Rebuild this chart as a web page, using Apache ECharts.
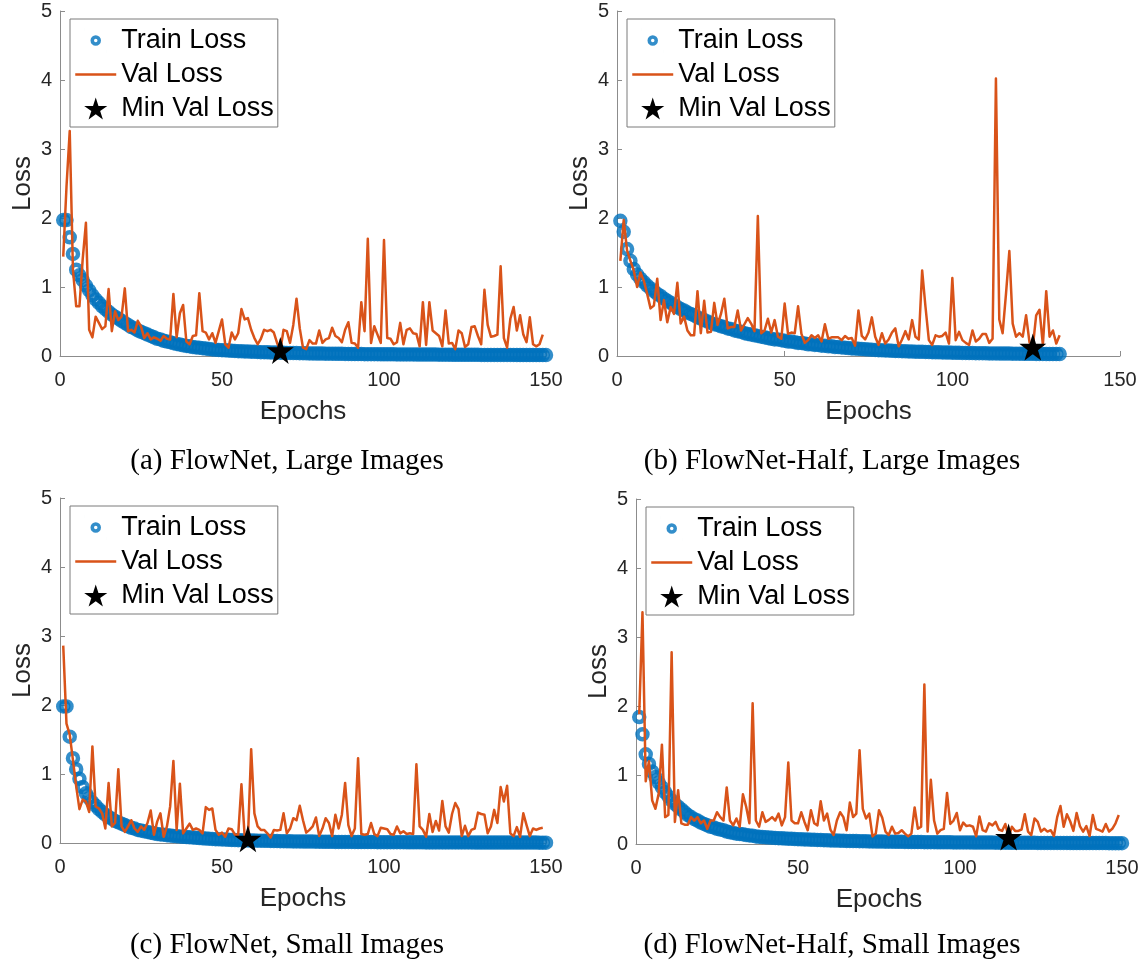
<!DOCTYPE html>
<html>
<head>
<meta charset="utf-8">
<title>Training and validation loss</title>
<script src="https://cdn.jsdelivr.net/npm/echarts@6/dist/echarts.min.js"></script>
<style>
  html, body { margin: 0; padding: 0; background: #fff; }
  #chart { width: 1141px; height: 968px; }
</style>
</head>
<body>
<div id="chart"></div>
<script>
// ---- data: loss per epoch (epoch = index + 1) ----
const trainLossA = [
  1.97,1.97,1.72,1.48,1.25,1.17,1.10,1.02,0.95,0.88,
  0.82,0.77,0.72,0.68,0.64,0.60,0.57,0.54,0.51,0.48,
  0.45,0.42,0.40,0.37,0.35,0.33,0.31,0.29,0.27,0.25,
  0.24,0.22,0.21,0.20,0.185,0.175,0.165,0.155,0.145,0.14,
  0.13,0.125,0.12,0.113,0.107,0.10,0.096,0.092,0.088,0.085,
  0.082,0.079,0.076,0.073,0.070,0.068,0.066,0.064,0.062,0.060,
  0.058,0.056,0.055,0.053,0.052,0.050,0.049,0.048,0.047,0.045,
  0.044,0.043,0.042,0.041,0.040,0.039,0.038,0.037,0.036,0.035,
  0.035,0.034,0.033,0.033,0.032,0.031,0.031,0.030,0.030,0.029,
  0.029,0.028,0.028,0.027,0.027,0.026,0.026,0.026,0.025,0.025,
  0.024,0.024,0.024,0.023,0.023,0.023,0.022,0.022,0.022,0.021,
  0.021,0.021,0.020,0.020,0.020,0.020,0.019,0.019,0.019,0.019,
  0.018,0.018,0.018,0.018,0.017,0.017,0.017,0.017,0.017,0.016,
  0.016,0.016,0.016,0.016,0.015,0.015,0.015,0.015,0.015,0.015,
  0.014,0.014,0.014,0.014,0.014,0.014,0.013,0.013,0.013,0.013
];
const valLossA = [
  1.44,2.45,3.26,1.25,0.72,0.72,1.40,1.93,0.38,0.27,
  0.57,0.48,0.39,0.43,0.97,0.36,0.65,0.52,0.57,0.98,
  0.36,0.38,0.34,0.51,0.43,0.26,0.33,0.24,0.27,0.25,
  0.22,0.29,0.25,0.24,0.90,0.27,0.62,0.74,0.21,0.17,
  0.29,0.30,0.91,0.36,0.34,0.24,0.33,0.19,0.36,0.53,
  0.17,0.12,0.34,0.24,0.33,0.68,0.53,0.55,0.38,0.26,
  0.17,0.25,0.38,0.36,0.38,0.34,0.19,0.08,0.38,0.36,
  0.19,0.45,0.83,0.40,0.12,0.10,0.23,0.18,0.18,0.37,
  0.19,0.24,0.26,0.41,0.29,0.26,0.20,0.38,0.49,0.19,
  0.18,0.12,0.78,0.36,1.70,0.19,0.43,0.31,0.19,1.68,
  0.26,0.25,0.17,0.20,0.48,0.17,0.38,0.40,0.33,0.32,
  0.14,0.78,0.16,0.78,0.37,0.33,0.29,0.14,0.66,0.18,
  0.19,0.10,0.37,0.33,0.13,0.17,0.42,0.43,0.29,0.17,
  0.96,0.45,0.28,0.29,0.31,1.30,0.26,0.12,0.54,0.71,
  0.37,0.59,0.31,0.20,0.56,0.17,0.14,0.17,0.31
];

const trainLossB = [
  1.96,1.80,1.55,1.38,1.26,1.18,1.12,1.07,1.02,0.98,
  0.94,0.90,0.87,0.83,0.80,0.77,0.74,0.71,0.68,0.66,
  0.63,0.61,0.59,0.56,0.54,0.52,0.50,0.48,0.46,0.45,
  0.43,0.42,0.40,0.39,0.37,0.36,0.35,0.33,0.32,0.31,
  0.30,0.29,0.28,0.27,0.26,0.25,0.24,0.24,0.23,0.22,
  0.21,0.21,0.20,0.19,0.19,0.18,0.17,0.17,0.16,0.16,
  0.15,0.15,0.14,0.14,0.13,0.13,0.125,0.12,0.115,0.11,
  0.107,0.104,0.10,0.097,0.094,0.091,0.088,0.085,0.083,0.080,
  0.078,0.076,0.074,0.072,0.070,0.068,0.066,0.064,0.063,0.061,
  0.060,0.058,0.057,0.055,0.054,0.053,0.052,0.050,0.049,0.048,
  0.047,0.046,0.045,0.044,0.043,0.042,0.041,0.041,0.040,0.039,
  0.038,0.038,0.037,0.036,0.036,0.035,0.035,0.034,0.033,0.033,
  0.032,0.032,0.031,0.031,0.030,0.030,0.030,0.029,0.029,0.028,
  0.028,0.028
];
const valLossB = [
  1.38,1.97,1.53,1.38,1.24,1.00,1.21,1.09,0.90,0.69,
  0.73,1.12,0.52,0.81,0.49,0.71,0.61,1.06,0.47,0.57,
  0.37,0.30,0.30,0.94,0.33,0.80,0.34,0.35,0.77,0.45,
  0.61,0.83,0.40,0.42,0.42,0.66,0.37,0.46,0.55,0.47,
  0.36,2.03,0.33,0.37,0.54,0.34,0.52,0.28,0.25,0.76,
  0.32,0.34,0.33,0.72,0.32,0.19,0.23,0.30,0.26,0.30,
  0.21,0.46,0.25,0.27,0.27,0.27,0.23,0.29,0.25,0.26,
  0.15,0.66,0.29,0.24,0.34,0.56,0.28,0.16,0.33,0.18,
  0.24,0.34,0.40,0.14,0.24,0.36,0.24,0.52,0.28,0.24,
  1.24,0.71,0.23,0.16,0.30,0.28,0.29,0.34,0.18,1.13,
  0.23,0.35,0.23,0.19,0.16,0.37,0.21,0.25,0.32,0.32,
  0.19,0.25,4.02,0.53,0.33,0.90,1.52,0.47,0.28,0.33,
  0.28,0.59,0.20,0.13,0.59,0.67,0.16,0.94,0.28,0.37,
  0.18,0.30
];

const trainLossC = [
  1.98,1.98,1.54,1.23,1.07,0.93,0.81,0.72,0.65,0.59,
  0.54,0.49,0.45,0.41,0.38,0.35,0.32,0.30,0.28,0.26,
  0.24,0.22,0.21,0.19,0.18,0.17,0.16,0.15,0.14,0.13,
  0.125,0.12,0.114,0.108,0.103,0.098,0.093,0.089,0.086,0.083,
  0.080,0.076,0.072,0.068,0.065,0.062,0.059,0.056,0.053,0.051,
  0.049,0.047,0.045,0.043,0.041,0.040,0.038,0.037,0.036,0.035,
  0.034,0.033,0.032,0.031,0.030,0.029,0.028,0.027,0.026,0.025,
  0.024,0.023,0.023,0.022,0.021,0.021,0.020,0.020,0.019,0.019,
  0.018,0.018,0.017,0.017,0.016,0.016,0.016,0.015,0.015,0.015,
  0.014,0.014,0.014,0.013,0.013,0.013,0.013,0.012,0.012,0.012,
  0.012,0.011,0.011,0.011,0.011,0.011,0.010,0.010,0.010,0.010,
  0.010,0.010,0.009,0.009,0.009,0.009,0.009,0.009,0.009,0.008,
  0.008,0.008,0.008,0.008,0.008,0.008,0.008,0.007,0.007,0.007,
  0.007,0.007,0.007,0.007,0.007,0.007,0.006,0.006,0.006,0.006,
  0.006,0.006,0.006,0.006,0.006,0.006,0.006,0.005,0.005,0.005
];
const valLossC = [
  2.86,1.73,1.57,1.20,0.82,0.49,0.63,0.60,0.45,1.40,
  0.53,0.50,0.43,0.21,0.87,0.24,0.29,1.07,0.24,0.16,
  0.24,0.33,0.21,0.16,0.24,0.19,0.29,0.47,0.12,0.31,
  0.43,0.09,0.24,0.53,1.19,0.19,0.86,0.14,0.21,0.28,
  0.19,0.21,0.19,0.14,0.52,0.48,0.50,0.19,0.12,0.15,
  0.09,0.21,0.20,0.12,0.12,0.85,0.09,0.06,1.36,0.43,
  0.24,0.19,0.19,0.14,0.08,0.19,0.18,0.19,0.43,0.14,
  0.21,0.36,0.33,0.54,0.33,0.15,0.19,0.24,0.37,0.10,
  0.21,0.36,0.29,0.10,0.41,0.21,0.41,0.87,0.26,0.10,
  0.21,1.23,0.13,0.12,0.13,0.29,0.13,0.10,0.22,0.21,
  0.20,0.13,0.12,0.24,0.14,0.17,0.13,0.14,0.13,1.14,
  0.24,0.19,0.09,0.42,0.16,0.32,0.18,0.61,0.24,0.15,
  0.42,0.58,0.49,0.10,0.25,0.10,0.19,0.21,0.44,0.42,
  0.41,0.14,0.24,0.48,0.29,0.81,0.60,0.83,0.14,0.10,
  0.23,0.09,0.43,0.26,0.10,0.21,0.19,0.21,0.22
];

const trainLossD = [
  1.84,1.59,1.30,1.16,1.05,0.97,0.89,0.82,0.75,0.69,
  0.63,0.58,0.54,0.50,0.46,0.42,0.39,0.36,0.34,0.31,
  0.29,0.27,0.25,0.24,0.22,0.21,0.20,0.18,0.17,0.16,
  0.15,0.145,0.14,0.13,0.125,0.12,0.11,0.105,0.10,0.097,
  0.094,0.091,0.088,0.085,0.082,0.079,0.077,0.075,0.072,0.070,
  0.068,0.066,0.064,0.062,0.060,0.058,0.057,0.055,0.053,0.052,
  0.050,0.049,0.048,0.046,0.045,0.044,0.043,0.042,0.041,0.040,
  0.039,0.038,0.037,0.036,0.036,0.035,0.034,0.033,0.033,0.032,
  0.031,0.031,0.030,0.030,0.029,0.029,0.028,0.028,0.027,0.027,
  0.026,0.026,0.025,0.025,0.025,0.024,0.024,0.023,0.023,0.023,
  0.022,0.022,0.022,0.021,0.021,0.021,0.020,0.020,0.020,0.020,
  0.019,0.019,0.019,0.019,0.018,0.018,0.018,0.018,0.017,0.017,
  0.017,0.017,0.017,0.016,0.016,0.016,0.016,0.016,0.015,0.015,
  0.015,0.015,0.015,0.014,0.014,0.014,0.014,0.014,0.014,0.013,
  0.013,0.013,0.013,0.013,0.013,0.012,0.012,0.012,0.012,0.012
];
const valLossD = [
  1.88,3.36,0.91,1.20,0.63,0.51,0.73,1.44,0.39,0.42,
  2.78,0.32,0.78,0.30,0.28,0.28,0.39,0.34,0.39,0.30,
  0.34,0.22,0.34,0.34,0.46,0.39,0.34,0.82,0.34,0.27,
  0.37,0.25,0.72,0.54,0.30,2.04,0.34,0.25,0.46,0.32,
  0.35,0.39,0.34,0.44,0.27,0.39,1.18,0.34,0.30,0.30,
  0.46,0.32,0.20,0.49,0.30,0.27,0.62,0.34,0.44,0.21,
  0.13,0.34,0.46,0.39,0.20,0.60,0.39,0.44,1.36,0.51,
  0.37,0.44,0.11,0.15,0.49,0.38,0.18,0.13,0.25,0.15,
  0.16,0.20,0.15,0.11,0.15,0.53,0.22,0.25,2.31,0.18,
  0.93,0.34,0.15,0.20,0.22,0.74,0.29,0.34,0.45,0.20,
  0.31,0.26,0.27,0.25,0.11,0.40,0.20,0.18,0.30,0.27,
  0.32,0.21,0.19,0.29,0.10,0.25,0.19,0.19,0.21,0.43,
  0.18,0.13,0.37,0.32,0.18,0.22,0.18,0.20,0.115,0.39,
  0.55,0.25,0.43,0.33,0.19,0.45,0.26,0.18,0.26,0.115,
  0.42,0.22,0.20,0.18,0.29,0.18,0.22,0.30,0.42
];

const panelCaptions = [
  '(a) FlowNet, Large Images',
  '(b) FlowNet-Half, Large Images',
  '(c) FlowNet, Small Images',
  '(d) FlowNet-Half, Small Images'
];
const seriesNames = ['Train Loss', 'Val Loss', 'Min Val Loss'];
const epochTicks = [0, 50, 100, 150];
const lossTicks = [0, 1, 2, 3, 4, 5];

// ---- styling ----
const SANS = "'Liberation Sans', Arial, Helvetica, sans-serif";
const SERIF = "'Liberation Serif', 'Times New Roman', serif";
const BLUE = '#0072BD';
const ORANGE = '#D95319';
const AXIS_GRAY = '#8c8c8c';
const TEXT_DARK = '#262626';
const STAR = 'path://M50,0L61.2,34.5L97.6,34.5L68.2,55.9L79.4,90.5L50,69.1L20.6,90.5L31.8,55.9L2.4,34.5L38.8,34.5Z';
// legend icons drawn inside a fixed 41x22 (or 22x22) box so their sizes differ
const RING_ICON = 'path://M0,0L0.01,0M22,22L22.01,22M14.5,11A3.5,3.5,0,1,1,7.5,11A3.5,3.5,0,1,1,14.5,11Z';
const LINE_ICON = 'path://M0,0L0,0.01M0,11L41,11M0,22L0,22.01';

// plot boxes in pixels
const panels = [
  { left: 60,  top: 11,  width: 486, height: 345, train: trainLossA, val: valLossA, capX: 287, capY: 461 },
  { left: 617, top: 11,  width: 503, height: 345, train: trainLossB, val: valLossB, capX: 832, capY: 461 },
  { left: 60,  top: 498, width: 486, height: 345, train: trainLossC, val: valLossC, capX: 287, capY: 945 },
  { left: 636, top: 499, width: 486, height: 345, train: trainLossD, val: valLossD, capX: 832, capY: 945 }
];

const grid = [], xAxis = [], yAxis = [], series = [], legend = [], graphic = [];

panels.forEach((p, i) => {
  grid.push({ left: p.left, top: p.top, width: p.width, height: p.height,
              containLabel: false, outerBoundsMode: 'none' });

  xAxis.push({
    gridIndex: i, type: 'value',
    min: epochTicks[0], max: epochTicks[epochTicks.length - 1],
    interval: epochTicks[1] - epochTicks[0],
    name: 'Epochs', nameLocation: 'middle', nameGap: 43,
    nameTextStyle: { fontSize: 26, color: TEXT_DARK, fontFamily: SANS },
    axisLine: { show: true, onZero: false, lineStyle: { color: AXIS_GRAY, width: 1 } },
    axisTick: { show: true, inside: true, length: 5, lineStyle: { color: AXIS_GRAY } },
    axisLabel: { fontSize: 20, color: TEXT_DARK, fontFamily: SANS, margin: 14 },
    splitLine: { show: false }
  });

  yAxis.push({
    gridIndex: i, type: 'value',
    min: lossTicks[0], max: lossTicks[lossTicks.length - 1],
    interval: lossTicks[1] - lossTicks[0],
    name: 'Loss', nameLocation: 'middle', nameGap: 24,
    nameTextStyle: { fontSize: 26, color: TEXT_DARK, fontFamily: SANS },
    axisLine: { show: true, onZero: false, lineStyle: { color: AXIS_GRAY, width: 1 } },
    axisTick: { show: true, inside: true, length: 5, lineStyle: { color: AXIS_GRAY } },
    axisLabel: { fontSize: 20, color: TEXT_DARK, fontFamily: SANS, margin: 8 },
    splitLine: { show: false }
  });

  const trainPts = p.train.map((v, k) => [k + 1, v]);
  const valPts = p.val.map((v, k) => [k + 1, v]);
  const minVal = Math.min(...p.val);
  const minIdx = p.val.indexOf(minVal);

  series.push({
    name: seriesNames[0], type: 'scatter', xAxisIndex: i, yAxisIndex: i,
    data: trainPts, symbol: 'circle', symbolSize: 10, clip: false, z: 2,
    itemStyle: { color: 'rgba(255,255,255,0)', borderColor: BLUE, borderWidth: 4.5 },
    emphasis: { disabled: true }, silent: true
  });
  series.push({
    name: seriesNames[1], type: 'line', xAxisIndex: i, yAxisIndex: i,
    data: valPts, symbol: 'none', showSymbol: false, z: 3,
    lineStyle: { color: ORANGE, width: 2.5, join: 'round' },
    itemStyle: { color: ORANGE },
    emphasis: { disabled: true }, silent: true
  });
  series.push({
    name: seriesNames[2], type: 'scatter', xAxisIndex: i, yAxisIndex: i,
    data: [[minIdx + 1, minVal]], symbol: STAR, symbolSize: 27, clip: false, z: 4,
    itemStyle: { color: '#000', opacity: 1 },
    emphasis: { disabled: true }, silent: true
  });

  legend.push({
    left: p.left + 10, top: p.top + 8, orient: 'vertical',
    itemWidth: 41, itemHeight: 22, itemGap: 7,
    padding: [8, 4, 5, 4],
    borderColor: '#7a7a7a', borderWidth: 1, backgroundColor: '#fff',
    selectedMode: false,
    textStyle: { fontSize: 27, color: '#000', fontFamily: SANS },
    data: [
      { name: seriesNames[0], icon: RING_ICON,
        itemStyle: { color: '#fff', borderColor: BLUE, borderWidth: 3.5 } },
      { name: seriesNames[1], icon: LINE_ICON,
        itemStyle: { color: 'rgba(0,0,0,0)', borderColor: ORANGE, borderWidth: 2.5 } },
      { name: seriesNames[2], icon: STAR,
        itemStyle: { color: '#000', borderWidth: 0, opacity: 1 } }
    ]
  });

  graphic.push({
    type: 'text', x: p.capX, y: p.capY, silent: true,
    style: { text: panelCaptions[i], fontSize: 29, fontFamily: SERIF, fill: '#000',
             align: 'center', verticalAlign: 'middle' }
  });
});

const chart = echarts.init(document.getElementById('chart'), null, { renderer: 'canvas' });
chart.setOption({
  animation: false,
  backgroundColor: '#fff',
  grid, xAxis, yAxis, series, legend, graphic,
  tooltip: { show: false }
});
</script>
</body>
</html>
